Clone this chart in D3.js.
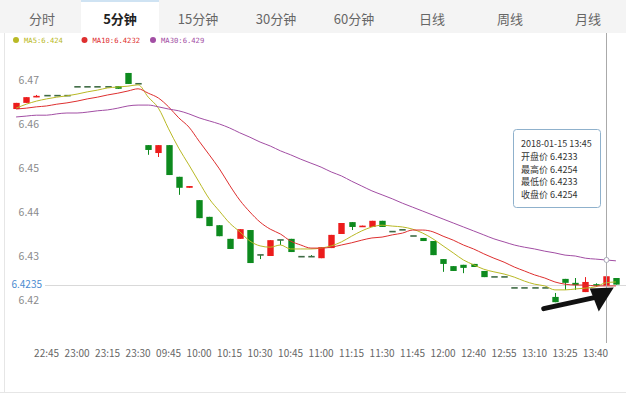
<!DOCTYPE html>
<html>
<head>
<meta charset="utf-8">
<script src="https://cdn.jsdelivr.net/npm/d3@7"></script>
<style>
  body { margin: 0; background: #fff; }
  svg { display: block; font-family: "Noto Sans CJK SC", "Noto Sans", sans-serif; }
</style>
</head>
<body>
<svg id="chart" width="626" height="398"></svg>
<script>
// tabs along the top
const tabs = ["分时", "5分钟", "15分钟", "30分钟", "60分钟", "日线", "周线", "月线"];
const activeTab = "5分钟";

// one entry per 5 minute candle
const times = ["22:30","22:35","22:40","22:45","22:50","22:55","23:00","23:05","23:10","23:15",
  "23:20","23:25","23:30","09:35","09:40","09:45","09:50","09:55","10:00","10:05",
  "10:10","10:15","10:20","10:25","10:30","10:35","10:40","10:45","10:50","10:55",
  "11:00","11:05","11:10","11:15","11:20","11:25","11:30","11:35","11:40","11:45",
  "11:50","11:55","12:00","12:30","12:35","12:40","12:45","12:50","12:55","13:00",
  "13:05","13:10","13:15","13:20","13:25","13:30","13:35","13:40","13:45","13:50"];

const opens = [6.4634,6.4648,6.4661,6.4664,6.4664,6.4664,6.4684,6.4684,6.4684,6.4684,
  6.4686,6.4716,6.4691,6.4552,6.4534,6.4552,6.4480,6.4455,6.4427,6.4389,
  6.4370,6.4339,6.4339,6.4359,6.4302,6.4300,6.4336,6.4339,6.4298,6.4298,
  6.4295,6.4318,6.4350,6.4377,6.4367,6.4366,6.4380,6.4355,6.4359,6.4345,
  6.4341,6.4334,6.4293,6.4277,6.4280,6.4282,6.4266,6.4252,6.4252,6.4227,
  6.4227,6.4227,6.4227,6.4207,6.4248,6.4239,6.4218,6.4236,6.4233,6.4250];
const closes = [6.4648,6.4661,6.4664,6.4664,6.4664,6.4664,6.4684,6.4684,6.4684,6.4684,
  6.4680,6.4691,6.4691,6.4541,6.4552,6.4484,6.4455,6.4459,6.4386,6.4368,
  6.4345,6.4316,6.4361,6.4284,6.4302,6.4336,6.4336,6.4309,6.4298,6.4298,
  6.4320,6.4348,6.4375,6.4366,6.4369,6.4380,6.4366,6.4355,6.4359,6.4345,
  6.4334,6.4302,6.4282,6.4266,6.4273,6.4275,6.4252,6.4252,6.4252,6.4227,
  6.4227,6.4227,6.4227,6.4195,6.4239,6.4234,6.4241,6.4233,6.4254,6.4235];
const highs = [6.4648,6.4661,6.4666,6.4664,6.4664,6.4664,6.4684,6.4684,6.4684,6.4684,
  6.4686,6.4716,6.4691,6.4552,6.4552,6.4552,6.4480,6.4459,6.4427,6.4389,
  6.4370,6.4339,6.4361,6.4359,6.4302,6.4336,6.4336,6.4339,6.4298,6.4302,
  6.4320,6.4348,6.4375,6.4377,6.4369,6.4380,6.4380,6.4355,6.4359,6.4345,
  6.4341,6.4334,6.4293,6.4277,6.4280,6.4282,6.4266,6.4252,6.4252,6.4227,
  6.4227,6.4227,6.4227,6.4216,6.4248,6.4250,6.4252,6.4238,6.4254,6.4250];
const lows = [6.4634,6.4648,6.4661,6.4664,6.4664,6.4664,6.4684,6.4684,6.4684,6.4684,
  6.4680,6.4691,6.4691,6.4530,6.4525,6.4484,6.4439,6.4455,6.4386,6.4368,
  6.4345,6.4316,6.4339,6.4284,6.4293,6.4300,6.4325,6.4309,6.4298,6.4298,
  6.4295,6.4318,6.4350,6.4359,6.4367,6.4366,6.4366,6.4355,6.4359,6.4345,
  6.4334,6.4302,6.4264,6.4266,6.4261,6.4275,6.4252,6.4252,6.4252,6.4227,
  6.4227,6.4227,6.4227,6.4195,6.4223,6.4223,6.4218,6.4230,6.4233,6.4235];

// moving averages as shown on the chart
const ma5 = [6.4636,6.4645,6.4652,6.4657,6.4661,6.4664,6.4668,6.4673,6.4677,6.4682,
  6.4684,6.4686,6.4689,6.4661,6.4636,6.4589,6.4545,6.4507,6.4468,6.4430,
  6.4402,6.4375,6.4355,6.4334,6.4323,6.4320,6.4325,6.4316,6.4316,6.4316,
  6.4318,6.4323,6.4332,6.4345,6.4357,6.4366,6.4370,6.4368,6.4366,6.4361,
  6.4352,6.4339,6.4323,6.4307,6.4291,6.4280,6.4270,6.4264,6.4259,6.4252,
  6.4243,6.4236,6.4232,6.4223,6.4223,6.4225,6.4227,6.4230,6.4239,6.4241];
const ma10 = [6.4634,6.4636,6.4639,6.4641,6.4645,6.4648,6.4652,6.4657,6.4661,6.4666,
  6.4670,6.4675,6.4680,6.4670,6.4659,6.4639,6.4614,6.4593,6.4561,6.4530,
  6.4498,6.4461,6.4427,6.4400,6.4377,6.4361,6.4350,6.4334,6.4325,6.4318,
  6.4318,6.4320,6.4325,6.4330,6.4336,6.4341,6.4343,6.4348,6.4352,6.4359,
  6.4359,6.4355,6.4345,6.4336,6.4325,6.4316,6.4305,6.4295,6.4286,6.4275,
  6.4266,6.4257,6.4250,6.4241,6.4236,6.4234,6.4234,6.4232,6.4232,6.4232];
const ma30 = [6.4616,6.4618,6.4620,6.4620,6.4623,6.4625,6.4625,6.4627,6.4630,6.4632,
  6.4636,6.4641,6.4643,6.4643,6.4639,6.4634,6.4630,6.4623,6.4614,6.4607,
  6.4600,6.4591,6.4580,6.4570,6.4559,6.4550,6.4539,6.4530,6.4520,6.4511,
  6.4502,6.4491,6.4482,6.4470,6.4459,6.4448,6.4439,6.4430,6.4420,6.4411,
  6.4402,6.4393,6.4384,6.4375,6.4366,6.4357,6.4348,6.4339,6.4332,6.4325,
  6.4320,6.4316,6.4311,6.4307,6.4302,6.4300,6.4295,6.4293,6.4291,6.4289];

const maNames = ["MA5", "MA10", "MA30"];
const maLegendValues = ["6.424", "6.4232", "6.429"];
const yTicks = [6.42, 6.43, 6.44, 6.45, 6.46, 6.47];
const lastPrice = 6.4235;
const tipIndex = 58;
const tipDate = "2018-01-15";
const tipLabels = ["开盘价", "最高价", "最低价", "收盘价"];

const upColor = "#ec1c1c";
const downColor = "#0d8a1e";
const maColors = ["#b9b925", "#de2f2f", "#a24ea4"];

const svg = d3.select("#chart");

// ---- tab bar
const tabX = d3.scaleBand().domain(tabs).range([3, 627]);
svg.append("rect").attr("x", 0).attr("y", 0).attr("width", 626).attr("height", 33).attr("fill", "#f4f4f4");
svg.append("rect").attr("x", tabX(activeTab)).attr("y", 0)
  .attr("width", tabX.bandwidth()).attr("height", 33).attr("fill", "#fff");
svg.append("rect").attr("x", tabX(activeTab)).attr("y", 0)
  .attr("width", tabX.bandwidth()).attr("height", 2).attr("fill", "#cfe3f3");
svg.append("g").selectAll("text").data(tabs).enter().append("text")
  .attr("x", d => tabX(d) + tabX.bandwidth() / 2)
  .attr("y", 18)
  .attr("text-anchor", "middle")
  .attr("dominant-baseline", "central")
  .attr("font-size", 13)
  .attr("font-weight", d => d === activeTab ? "bold" : "normal")
  .attr("fill", d => d === activeTab ? "#222" : "#666")
  .text(d => d);

// frame
svg.append("line").attr("x1", 4.5).attr("x2", 4.5).attr("y1", 33).attr("y2", 392).attr("stroke", "#e6e6e6");
svg.append("line").attr("x1", 0).attr("x2", 626).attr("y1", 392.5).attr("y2", 392.5).attr("stroke", "#e6e6e6");

// ---- legend
const legendX = d3.scalePoint().domain(maNames).range([16, 153]);
const lg = svg.append("g").selectAll("g").data(maNames).enter().append("g")
  .attr("transform", d => `translate(${legendX(d)},40)`);
lg.append("circle").attr("r", 3).attr("fill", (d, i) => maColors[i]);
lg.append("text").attr("x", 8).attr("dy", "0.35em")
  .attr("font-family", "DejaVu Sans Mono, monospace")
  .attr("font-size", 7.2)
  .attr("fill", (d, i) => maColors[i])
  .text((d, i) => `${d}:${maLegendValues[i]}`);

// ---- scales
const x = d3.scaleBand().domain(times).range([11, 621]);
const y = d3.scaleLinear().domain([6.42, 6.47]).range([300, 80]);
const cx = t => x(t) + x.bandwidth() / 2;

// y labels
svg.append("g").selectAll("text").data(yTicks).enter().append("text")
  .attr("x", 39).attr("y", d => y(d))
  .attr("text-anchor", "end").attr("dy", "0.35em")
  .attr("font-size", 10.5).attr("fill", "#8a8a8a")
  .text(d => d.toFixed(2));

// last price line + label
svg.append("line").attr("x1", 45).attr("x2", 626)
  .attr("y1", Math.round(y(lastPrice)) + 0.5).attr("y2", Math.round(y(lastPrice)) + 0.5)
  .attr("stroke", "#d9d9d9");
svg.append("text").attr("x", 42).attr("y", y(lastPrice))
  .attr("text-anchor", "end").attr("dy", "0.35em")
  .attr("font-size", 10).attr("fill", "#4a8bd0").text(lastPrice.toFixed(4));

// x axis
const xAxis = d3.axisBottom(x)
  .tickValues(times.filter((t, i) => i > 0 && i % 3 === 0))
  .tickSize(0).tickPadding(0);
const gx = svg.append("g").attr("transform", "translate(0,350)").call(xAxis);
gx.select(".domain").remove();
gx.selectAll("text").attr("font-size", 10).attr("fill", "#666")
  .attr("font-family", "\"Noto Sans CJK SC\", sans-serif");

// ---- candles
const candles = times.map((t, i) => ({ t, o: opens[i], c: closes[i], h: highs[i], l: lows[i] }));
const bodyW = 6.4;
const colorOf = d => d.c > d.o ? upColor : downColor;
const cg = svg.append("g").selectAll("g").data(candles).enter().append("g");
cg.append("line")
  .attr("x1", d => Math.round(cx(d.t)) + 0.5).attr("x2", d => Math.round(cx(d.t)) + 0.5)
  .attr("y1", d => y(d.h)).attr("y2", d => y(d.l))
  .attr("stroke", colorOf).attr("stroke-width", 1);
cg.append("rect")
  .attr("x", d => Math.round(cx(d.t)) + 0.5 - bodyW / 2)
  .attr("width", bodyW)
  .attr("y", d => d.o === d.c ? y(d.o) - 1 : y(Math.max(d.o, d.c)))
  .attr("height", d => Math.max(1.6, Math.abs(y(d.o) - y(d.c))))
  .attr("fill", d => d.o === d.c ? "#3f6b45" : colorOf(d));

// ---- moving averages
const line = d3.line().x((d, i) => cx(times[i])).y(d => y(d)).curve(d3.curveMonotoneX);
[ma5, ma10, ma30].forEach((s, k) => {
  svg.append("path").datum(s).attr("d", line)
    .attr("fill", "none").attr("stroke", maColors[k]).attr("stroke-width", 1);
});

// ---- crosshair + tooltip
const tipX = Math.round(cx(times[tipIndex])) + 0.5;
svg.append("line").attr("x1", tipX).attr("x2", tipX).attr("y1", 33).attr("y2", 343)
  .attr("stroke", "#aaa").attr("stroke-width", 1);
svg.append("circle").attr("cx", tipX).attr("cy", y(ma30[tipIndex])).attr("r", 2.5)
  .attr("fill", "#fff").attr("stroke", "#a9a9b8");

const tip = svg.append("g").attr("transform", "translate(513,129)");
tip.append("rect").attr("x", 0.5).attr("y", 0.5).attr("width", 87).attr("height", 78).attr("rx", 3)
  .attr("fill", "#fff").attr("stroke", "#8fb1cc");
const tipLines = [`${tipDate} ${times[tipIndex]}`].concat(
  [opens, highs, lows, closes].map((arr, i) => `${tipLabels[i]} ${arr[tipIndex].toFixed(4)}`));
tip.selectAll("text").data(tipLines).enter().append("text")
  .attr("x", 8).attr("y", (d, i) => 15 + i * 12.7)
  .attr("dy", "0.35em").attr("font-size", 9).attr("fill", "#333")
  .text(d => d);

// ---- arrow annotation pointing at the last candles
const ax = cx(times[tipIndex]) + 8, ay = y(lastPrice) + 3;
svg.append("path")
  .attr("d", `M${ax - 70},${ay + 21} L${ax - 15},${ay + 9}`)
  .attr("stroke", "#111").attr("stroke-width", 5).attr("stroke-linecap", "round");
svg.append("path")
  .attr("d", `M${ax},${ay} L${ax - 24},${ay + 1} L${ax - 15},${ay + 24} Z`)
  .attr("fill", "#111");
</script>
</body>
</html>
